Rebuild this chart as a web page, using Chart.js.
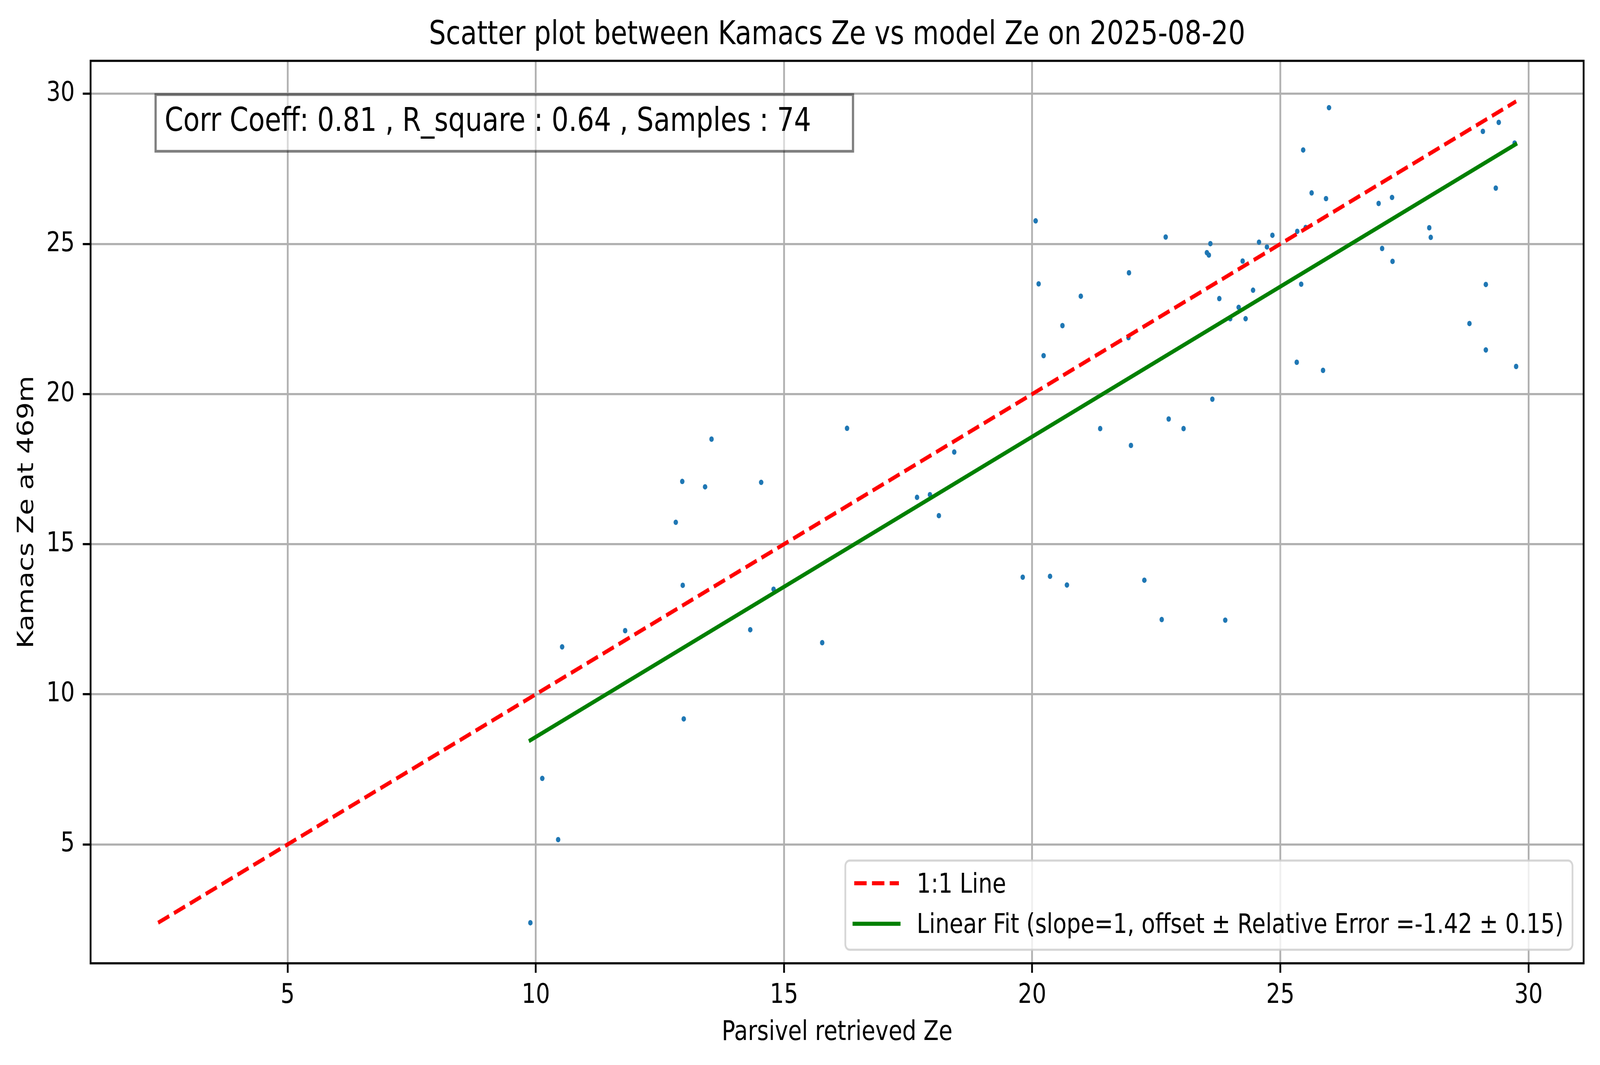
<!DOCTYPE html>
<html>
<head>
<meta charset="utf-8">
<script src="https://cdn.jsdelivr.net/npm/chart.js@4.4.1/dist/chart.umd.min.js"></script>
<style>
html,body{margin:0;padding:0;background:#ffffff;overflow:hidden;width:100vw;height:100vh}
canvas{display:block;width:100vw !important;height:100vh !important}
</style>
</head>
<body>
<canvas id="c" width="4981" height="2726"></canvas>
<script>
// ---------------- data ----------------
const parsivelZe = [
  13.54, 12.95, 13.41, 14.54, 12.82, 16.27, 12.96, 14.79, 11.80, 10.53,
  14.32, 15.77, 12.98, 10.13, 10.45, 9.89,
  17.68, 17.94, 18.12, 18.43,
  20.07, 22.69, 23.59, 23.52, 23.56, 24.57, 24.73, 24.84, 24.24, 20.13,
  21.95, 20.98, 23.77, 24.45, 24.16, 23.99, 24.30, 20.61, 20.23, 21.94,
  23.63, 21.37, 22.75, 23.05, 21.99, 19.81, 20.36, 20.70, 22.26, 22.61,
  23.89,
  25.98, 25.46, 29.08, 29.40, 29.72, 25.63, 25.92, 26.98, 27.25, 29.34,
  25.34, 25.51, 28.00, 28.03, 27.05, 27.26, 25.42, 29.14, 28.81, 29.14,
  29.75, 25.33, 25.86
];
const kamacsZe = [
  18.50, 17.09, 16.91, 17.06, 15.73, 18.86, 13.63, 13.50, 12.12, 11.58,
  12.15, 11.72, 9.18, 7.20, 5.16, 2.39,
  16.56, 16.65, 15.95, 18.07,
  25.77, 25.23, 25.01, 24.71, 24.63, 25.06, 24.90, 25.29, 24.43, 23.67,
  24.04, 23.26, 23.18, 23.46, 22.89, 22.51, 22.51, 22.28, 21.28, 21.88,
  19.83, 18.85, 19.17, 18.85, 18.29, 13.90, 13.93, 13.64, 13.80, 12.49,
  12.47,
  29.54, 28.13, 28.75, 29.05, 28.36, 26.70, 26.51, 26.35, 26.55, 26.86,
  25.42, 25.55, 25.54, 25.22, 24.85, 24.42, 23.66, 23.65, 22.35, 21.47,
  20.92, 21.06, 20.79
];
const oneToOneX = [2.39, 29.75];
const oneToOneY = [2.39, 29.75];
const fitX = [9.89, 29.74];
const fitY = [8.47, 28.32];
const xTicks = [5, 10, 15, 20, 25, 30];
const yTicks = [5, 10, 15, 20, 25, 30];
const xRange = [1.03, 31.11];
const yRange = [1.04, 31.10];

const titleText = 'Scatter plot between Kamacs Ze vs model Ze on 2025-08-20';
const xLabel = 'Parsivel retrieved Ze';
const yLabel = 'Kamacs Ze at 469m';
const oneLabel = '1:1 Line';
const fitLabel = 'Linear Fit (slope=1, offset \u00b1 Relative Error =-1.42 \u00b1 0.15)';
const corrText = '0.81';
const rsqText = '0.64';

// ---------------- styling ----------------
const PT = 500 / 72;
const FONT = 'DejaVu Sans';
Chart.defaults.font.family = FONT;
Chart.defaults.color = '#000000';

const scatterPts = parsivelZe.map((x, i) => ({x: x, y: kamacsZe[i]}));
const onePts = oneToOneX.map((x, i) => ({x: x, y: oneToOneY[i]}));
const fitPts = fitX.map((x, i) => ({x: x, y: fitY[i]}));
const statsText = 'Corr Coeff: ' + corrText + ' , R_square : ' + rsqText + ' , Samples : ' + scatterPts.length;

const overlay = {
  id: 'overlay',
  afterDatasetsDraw(chart) {
    const {ctx, chartArea: a} = chart;
    ctx.save();
    ctx.strokeStyle = '#000000';
    ctx.lineWidth = 0.8 * PT;
    ctx.lineJoin = 'miter';
    ctx.strokeRect(a.left, a.top, a.right - a.left, a.bottom - a.top);
    ctx.restore();
  },
  afterDraw(chart) {
    const {ctx, chartArea: a} = chart;
    const w = a.right - a.left, h = a.bottom - a.top;
    // ---- stats text box (axes fraction 0.05, 0.95) ----
    ctx.save();
    const tx = a.left + 0.05 * w;
    const ty = a.top + 0.05 * h;
    const bx = tx - 30, by = ty - 29, bw = 2171, bh = 145;
    ctx.fillStyle = 'rgba(255,255,255,0.5)';
    ctx.fillRect(bx, by, bw, bh);
    ctx.strokeStyle = 'rgba(0,0,0,0.5)';
    ctx.lineWidth = 1.0 * PT;
    ctx.strokeRect(bx, by, bw, bh);
    ctx.fillStyle = '#000000';
    ctx.font = (12 * PT) + 'px "' + FONT + '"';
    ctx.textAlign = 'left';
    ctx.textBaseline = 'alphabetic';
    ctx.fillText(statsText, bx + 28, by + 93);
    ctx.restore();

    // ---- legend (lower right) ----
    ctx.save();
    const fs = 10 * PT;
    ctx.font = fs + 'px "' + FONT + '"';
    const entries = chart.data.datasets.filter(d => d.showLine);
    let maxW = 0;
    entries.forEach(d => { maxW = Math.max(maxW, ctx.measureText(d.label).width); });
    const pad = 0.4 * fs, hl = 2.0 * fs, htp = 0.8 * fs, gap = 0.5 * fs, rowH = 0.993 * fs;
    const lw = pad + hl + htp + maxW + pad;
    const lh = 2 * pad + entries.length * rowH + (entries.length - 1) * gap;
    const lr = a.right - 0.5 * fs, lb = a.bottom - 0.5 * fs;
    const ll = lr - lw, lt = lb - lh;
    ctx.beginPath();
    ctx.roundRect(ll, lt, lw, lh, 0.2 * fs);
    ctx.fillStyle = 'rgba(255,255,255,0.8)';
    ctx.fill();
    ctx.strokeStyle = 'rgba(204,204,204,0.8)';
    ctx.lineWidth = 0.8 * PT;
    ctx.stroke();
    entries.forEach((d, i) => {
      const cy = lt + 58 + i * (rowH + gap);
      ctx.save();
      ctx.beginPath();
      ctx.setLineDash(d.borderDash || []);
      ctx.lineCap = d.borderCapStyle || 'butt';
      ctx.strokeStyle = d.borderColor;
      ctx.lineWidth = d.borderWidth;
      ctx.moveTo(ll + pad, cy);
      ctx.lineTo(ll + pad + hl, cy);
      ctx.stroke();
      ctx.restore();
      ctx.fillStyle = '#000000';
      ctx.textAlign = 'left';
      ctx.textBaseline = 'alphabetic';
      ctx.fillText(d.label, ll + pad + hl + htp, cy + 24);
    });
    ctx.restore();
  }
};

const gridOpts = {
  color: '#b0b0b0',
  lineWidth: 0.8 * PT,
  drawTicks: true,
  tickLength: 3.5 * PT,
  tickColor: '#000000',
  tickWidth: 0.8 * PT
};

new Chart(document.getElementById('c'), {
  type: 'scatter',
  data: {
    datasets: [
      {
        label: 'data',
        data: scatterPts,
        backgroundColor: '#1f77b4',
        borderWidth: 0,
        pointRadius: 6.95,
        pointHoverRadius: 6.95,
        order: 3
      },
      {
        label: oneLabel,
        data: onePts,
        showLine: true,
        borderColor: '#ff0000',
        backgroundColor: '#ff0000',
        borderWidth: 1.5 * PT,
        borderDash: [3.7 * 1.5 * PT, 1.6 * 1.5 * PT],
        borderCapStyle: 'butt',
        pointRadius: 0,
        pointHoverRadius: 0,
        order: 2
      },
      {
        label: fitLabel,
        data: fitPts,
        showLine: true,
        borderColor: '#008000',
        backgroundColor: '#008000',
        borderWidth: 1.5 * PT,
        borderCapStyle: 'square',
        pointRadius: 0,
        pointHoverRadius: 0,
        order: 1
      }
    ]
  },
  options: {
    responsive: false,
    maintainAspectRatio: false,
    devicePixelRatio: 1,
    animation: false,
    events: [],
    layout: {padding: {left: 0, right: 51, top: 0, bottom: 0}},
    plugins: {
      legend: {display: false},
      tooltip: {enabled: false},
      title: {
        display: true,
        text: titleText,
        color: '#000000',
        fullSize: false,
        font: {family: FONT, size: 12 * PT, weight: 'normal', lineHeight: 1.2},
        padding: {top: 41.6, bottom: 14.1}
      }
    },
    scales: {
      x: {
        type: 'linear',
        position: 'bottom',
        min: xRange[0],
        max: xRange[1],
        afterBuildTicks: s => { s.ticks = xTicks.map(v => ({value: v})); },
        afterFit: s => { s.height = 260.3; },
        grid: gridOpts,
        border: {display: false},
        ticks: {
          color: '#000000',
          font: {family: FONT, size: 10 * PT, lineHeight: 1.2},
          padding: 17.3,
          maxRotation: 0,
          autoSkip: false,
          includeBounds: false,
          callback: v => String(v)
        },
        title: {
          display: true,
          text: xLabel,
          color: '#000000',
          font: {family: FONT, size: 10 * PT, lineHeight: 1.2},
          padding: {top: 0, bottom: 40.3}
        }
      },
      y: {
        type: 'linear',
        position: 'left',
        min: yRange[0],
        max: yRange[1],
        afterBuildTicks: s => { s.ticks = yTicks.map(v => ({value: v})); },
        afterFit: s => { s.width = 282; },
        grid: gridOpts,
        border: {display: false},
        ticks: {
          color: '#000000',
          font: {family: FONT, size: 10 * PT, lineHeight: 1.2},
          padding: 25,
          autoSkip: false,
          includeBounds: false,
          callback: v => String(v)
        },
        title: {
          display: true,
          text: yLabel,
          color: '#000000',
          font: {family: FONT, size: 10 * PT, lineHeight: 1.2},
          padding: {top: 43.3, bottom: 0}
        }
      }
    }
  },
  plugins: [overlay]
});
</script>
</body>
</html>
